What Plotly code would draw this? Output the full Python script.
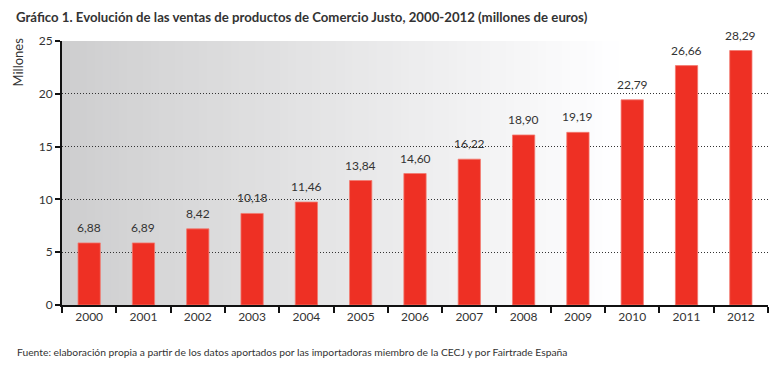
import plotly.graph_objects as go

years = ["2000", "2001", "2002", "2003", "2004", "2005", "2006",
         "2007", "2008", "2009", "2010", "2011", "2012"]
bar_heights = [5.88, 5.88, 7.21, 8.67, 9.75, 11.79, 12.45,
               13.81, 16.10, 16.35, 19.43, 22.67, 24.10]
# value labels printed above the bars
value_labels = ["6,88", "6,89", "8,42", "10,18", "11,46", "13,84", "14,60",
                "16,22", "18,90", "19,19", "22,79", "26,66", "28,29"]
y_ticks = [0, 5, 10, 15, 20, 25]

FONT = "Lato"
fig = go.Figure()
fig.add_trace(go.Bar(
    x=years, y=bar_heights,
    marker=dict(color="#EE3024", line=dict(color="#F27A70", width=0.8)),
    width=0.41,
))

# horizontal grey-to-white gradient background
shapes = []
n = 70
end = 0.80
for i in range(n):
    t = i / (n - 1)
    g = int(round(206 + (255 - 206) * t))
    shapes.append(dict(type="rect", xref="paper", yref="paper",
                       x0=end * i / n, x1=end * (i + 1) / n + 0.002,
                       y0=0, y1=1, fillcolor=f"rgb({g},{g},{min(255, g + 1)})",
                       line=dict(width=0), layer="below"))

annotations = [
    dict(x=i, y=h, text=lab, xref="x", yref="y", xanchor="center",
         yanchor="bottom", yshift=6, showarrow=False,
         font=dict(family=FONT, size=12, color="#333333"))
    for i, (h, lab) in enumerate(zip(bar_heights, value_labels))
]
annotations += [
    dict(text="<b>Gráfico 1. Evolución de las ventas de productos de Comercio Justo, 2000-2012 (millones de euros)</b>",
         xref="paper", yref="paper", x=-47/706, y=1 + 33/264, xanchor="left", yanchor="top",
         borderpad=0, showarrow=False, font=dict(family=FONT, size=13.2, color="#333333")),
    dict(text="Millones", textangle=-90, xref="paper", yref="paper",
         x=-36/706, y=1 + 4/264, xanchor="right", yanchor="top", showarrow=False,
         borderpad=0, font=dict(family=FONT, size=13, color="#333333")),
    dict(text="Fuente: elaboración propia a partir de los datos aportados por las importadoras miembro de la CECJ y por Fairtrade España",
         xref="paper", yref="paper", x=-47/706, y=-47/264, xanchor="left", yanchor="middle",
         showarrow=False, font=dict(family=FONT, size=10.3, color="#333333")),
]

fig.update_layout(
    width=768, height=352,
    margin=dict(l=54, r=8, t=33, b=55, autoexpand=False),
    paper_bgcolor="white", plot_bgcolor="white",
    shapes=shapes, showlegend=False,
    font=dict(family=FONT, color="#333333"),
    xaxis=dict(type="category", tickson="boundaries", ticks="outside",
               range=[-0.5, 12.5],
               ticklen=6, tickwidth=2, tickcolor="#111111", automargin=False,
               showline=True, linecolor="#111111", linewidth=2,
               showgrid=False, tickfont=dict(family=FONT, size=12, color="#333333")),
    yaxis=dict(range=[0, 25], tickvals=y_ticks, ticks="outside", ticklen=5,
               tickwidth=2, tickcolor="#111111", showline=True, automargin=False,
               linecolor="#111111", linewidth=2, showgrid=True,
               gridcolor="#333333", griddash="1px,2px", gridwidth=1, zeroline=False,
               tickfont=dict(family=FONT, size=12, color="#333333")),
    annotations=annotations,
)
fig.write_html("out.html")
